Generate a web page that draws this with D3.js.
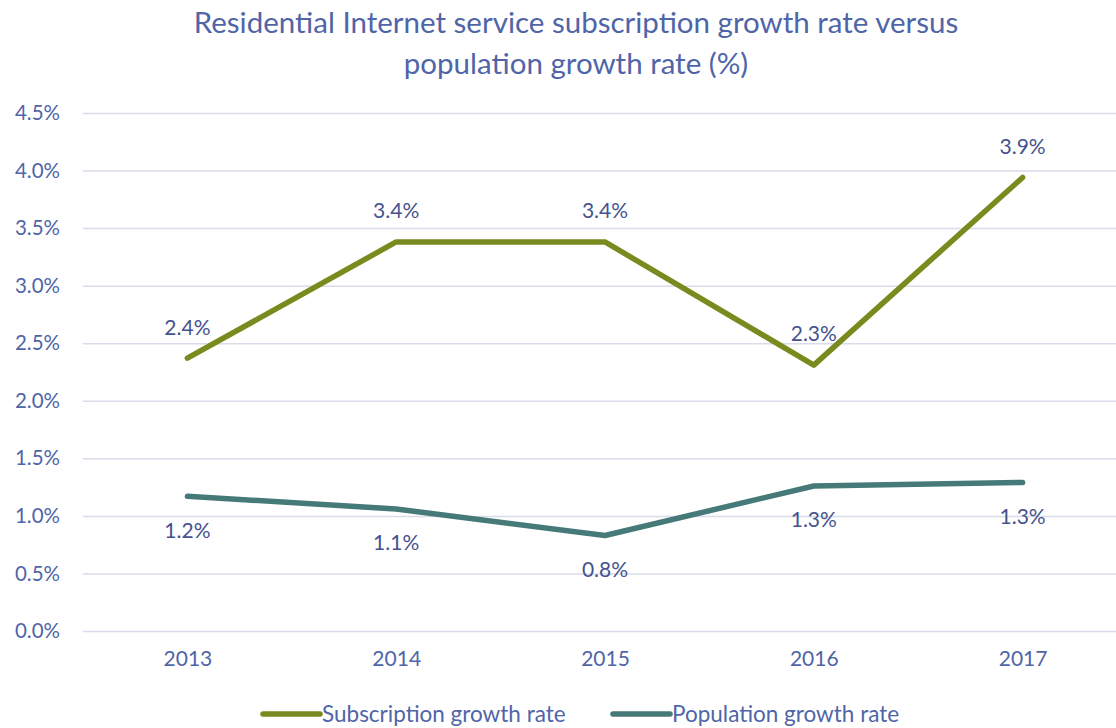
<!DOCTYPE html>
<html>
<head>
<meta charset="utf-8">
<script src="https://cdn.jsdelivr.net/npm/d3@7"></script>
<style>
  body { margin: 0; background: #fff; }
  svg { display: block; font-family: Lato, "Open Sans", sans-serif; }
</style>
</head>
<body>
<div id="chart"></div>
<script>
const years = ["2013", "2014", "2015", "2016", "2017"];
const subscriptionRate = [2.37, 3.38, 3.38, 2.31, 3.94];
const populationRate = [1.17, 1.06, 0.83, 1.26, 1.29];
const yTicks = [0, 0.5, 1, 1.5, 2, 2.5, 3, 3.5, 4, 4.5];
const titleLines = [
  "Residential Internet service subscription growth rate versus",
  "population growth rate (%)",
];

const series = [
  { name: "Subscription growth rate", values: subscriptionRate, color: "#7b8a1e", labelDy: -31 },
  { name: "Population growth rate", values: populationRate, color: "#467a78", labelDy: 34 },
];

const width = 1116, height = 728;
const margin = { top: 113, right: -11, bottom: 97, left: 83 };
const textColor = "#5065a8";
const labelColor = "#45528e";

const svg = d3.select("#chart").append("svg")
  .attr("width", width)
  .attr("height", height);

const x = d3.scalePoint()
  .domain(years)
  .range([margin.left, width - margin.right])
  .padding(0.5);

const y = d3.scaleLinear()
  .domain([0, 4.5])
  .range([height - margin.bottom, margin.top]);

// title
svg.append("g")
  .selectAll("text")
  .data(titleLines)
  .join("text")
  .attr("x", 576)
  .attr("y", (d, i) => 33 + i * 41)
  .attr("text-anchor", "middle")
  .attr("fill", textColor)
  .attr("font-size", 29.5)
  .text((d) => d);

// gridlines + y labels
const gY = svg.append("g")
  .attr("transform", `translate(${margin.left},0)`)
  .call(d3.axisLeft(y).tickValues(yTicks).tickSize(-(width - margin.left)).tickPadding(23)
    .tickFormat((d) => d3.format(".1f")(d) + "%"))
  .call((g) => g.select(".domain").remove());
gY.selectAll(".tick line").attr("stroke", "#d9dcea").attr("stroke-width", 1.5);
gY.selectAll(".tick text")
  .attr("fill", textColor)
  .attr("font-size", 20.5)
  .attr("font-family", "Lato, sans-serif");

// x labels
const gX = svg.append("g")
  .attr("transform", `translate(0,${height - margin.bottom})`)
  .call(d3.axisBottom(x).tickSize(0).tickPadding(20))
  .call((g) => g.select(".domain").remove());
gX.selectAll(".tick text")
  .attr("fill", textColor)
  .attr("font-size", 21)
  .attr("font-family", "Lato, sans-serif");

const line = d3.line()
  .x((d, i) => x(years[i]))
  .y((d) => y(d));

svg.append("g")
  .selectAll("path")
  .data(series)
  .join("path")
  .attr("fill", "none")
  .attr("stroke", (d) => d.color)
  .attr("stroke-width", 5.5)
  .attr("stroke-linecap", "round")
  .attr("stroke-linejoin", "round")
  .attr("d", (d) => line(d.values));

// data labels
svg.append("g")
  .selectAll("g")
  .data(series)
  .join("g")
  .selectAll("text")
  .data((s) => s.values.map((v, i) => ({ v, i, dy: s.labelDy })))
  .join("text")
  .attr("x", (d) => x(years[d.i]))
  .attr("y", (d) => y(d.v) + d.dy)
  .attr("dy", "0.35em")
  .attr("text-anchor", "middle")
  .attr("fill", labelColor)
  .attr("font-size", 21)
  .text((d) => d3.format(".1f")(d.v) + "%");

// legend
const legendX = [263, 613];
const legend = svg.append("g")
  .selectAll("g")
  .data(series)
  .join("g")
  .attr("transform", (d, i) => `translate(${legendX[i]},714)`);
legend.append("line")
  .attr("x2", 57)
  .attr("stroke", (d) => d.color)
  .attr("stroke-width", 5.5)
  .attr("stroke-linecap", "round");
legend.append("text")
  .attr("x", 59)
  .attr("dy", "0.35em")
  .attr("fill", textColor)
  .attr("font-size", 22.5)
  .text((d) => d.name);
</script>
</body>
</html>
